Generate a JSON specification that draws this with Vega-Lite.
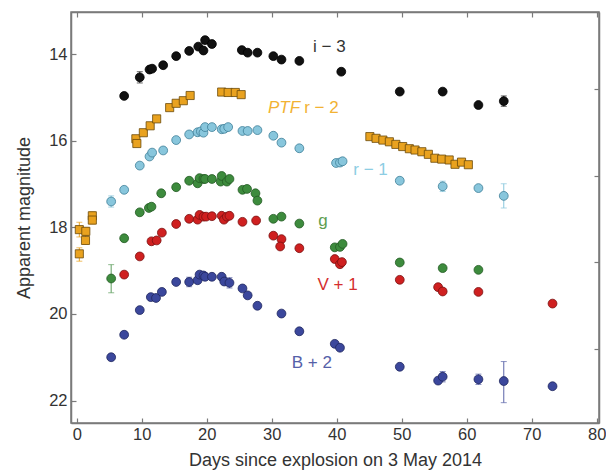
{
  "$schema": "https://vega.github.io/schema/vega-lite/v6.json",
  "width": 528,
  "height": 411,
  "autosize": {"type": "none"},
  "padding": {"left": 71, "top": 12, "right": 7, "bottom": 47},
  "config": {
    "font": "Liberation Sans",
    "view": {"stroke": "#7a7a7a", "strokeWidth": 1.5},
    "axis": {
      "grid": false,
      "domainColor": "#7a7a7a",
      "domainWidth": 1.5,
      "tickColor": "#7a7a7a",
      "tickWidth": 1.2,
      "tickSize": -5,
      "labelFont": "Liberation Sans",
      "labelFontSize": 16.5,
      "labelColor": "#333333",
      "titleFont": "Liberation Sans",
      "titleFontSize": 18,
      "titleFontWeight": "normal",
      "titleColor": "#333333"
    }
  },
  "datasets": {
    "pts": [
      {"s":"i","d":7.3,"m":14.96},{"s":"i","d":9.7,"m":14.53},{"s":"i","d":11.2,"m":14.35},{"s":"i","d":11.6,"m":14.33},{"s":"i","d":13.3,"m":14.25},{"s":"i","d":15.3,"m":14.04},{"s":"i","d":17.3,"m":13.92},{"s":"i","d":18.7,"m":13.82},{"s":"i","d":19.5,"m":13.91},{"s":"i","d":19.75,"m":13.67},{"s":"i","d":20.8,"m":13.76},{"s":"i","d":25.4,"m":13.9},{"s":"i","d":26.3,"m":13.96},{"s":"i","d":27.8,"m":13.96},{"s":"i","d":30.25,"m":14.04},{"s":"i","d":31.5,"m":14.12},{"s":"i","d":34.25,"m":14.15},{"s":"i","d":40.7,"m":14.4},{"s":"i","d":49.7,"m":14.86},{"s":"i","d":56.3,"m":14.86},{"s":"i","d":61.8,"m":15.17},{"s":"i","d":65.7,"m":15.08},
      {"s":"r","d":5.3,"m":17.4},{"s":"r","d":7.3,"m":17.13},{"s":"r","d":9.7,"m":16.57},{"s":"r","d":11.2,"m":16.36},{"s":"r","d":11.6,"m":16.27},{"s":"r","d":13.3,"m":16.22},{"s":"r","d":15.3,"m":15.98},{"s":"r","d":17.3,"m":15.85},{"s":"r","d":18.6,"m":15.8},{"s":"r","d":19.1,"m":15.78},{"s":"r","d":19.5,"m":15.81},{"s":"r","d":19.75,"m":15.68},{"s":"r","d":20.8,"m":15.68},{"s":"r","d":22.3,"m":15.73},{"s":"r","d":22.7,"m":15.72},{"s":"r","d":23.3,"m":15.68},{"s":"r","d":25.5,"m":15.77},{"s":"r","d":26.3,"m":15.77},{"s":"r","d":27.8,"m":15.75},{"s":"r","d":30.25,"m":15.88},{"s":"r","d":31.5,"m":16.04},{"s":"r","d":34.25,"m":16.17},{"s":"r","d":39.9,"m":16.51},{"s":"r","d":40.5,"m":16.5},{"s":"r","d":40.9,"m":16.47},{"s":"r","d":49.7,"m":16.92},{"s":"r","d":56.3,"m":17.05},{"s":"r","d":61.8,"m":17.09},{"s":"r","d":65.7,"m":17.27},
      {"s":"g","d":5.3,"m":19.18},{"s":"g","d":7.3,"m":18.25},{"s":"g","d":9.7,"m":17.65},{"s":"g","d":11.1,"m":17.55},{"s":"g","d":11.5,"m":17.52},{"s":"g","d":13.0,"m":17.21},{"s":"g","d":15.3,"m":17.07},{"s":"g","d":17.3,"m":16.92},{"s":"g","d":18.6,"m":16.98},{"s":"g","d":18.9,"m":16.86},{"s":"g","d":19.5,"m":16.88},{"s":"g","d":19.75,"m":16.88},{"s":"g","d":20.8,"m":16.88},{"s":"g","d":22.15,"m":16.94},{"s":"g","d":22.3,"m":16.81},{"s":"g","d":23.1,"m":16.94},{"s":"g","d":23.5,"m":16.88},{"s":"g","d":25.5,"m":17.13},{"s":"g","d":26.2,"m":17.11},{"s":"g","d":27.5,"m":17.21},{"s":"g","d":27.8,"m":17.38},{"s":"g","d":30.25,"m":17.8},{"s":"g","d":31.5,"m":17.75},{"s":"g","d":34.25,"m":17.91},{"s":"g","d":39.7,"m":18.46},{"s":"g","d":40.5,"m":18.45},{"s":"g","d":40.9,"m":18.38},{"s":"g","d":49.7,"m":18.81},{"s":"g","d":56.3,"m":18.94},{"s":"g","d":61.8,"m":18.98},
      {"s":"V","d":7.3,"m":19.09},{"s":"V","d":9.7,"m":18.67},{"s":"V","d":11.5,"m":18.32},{"s":"V","d":12.3,"m":18.3},{"s":"V","d":13.1,"m":18.12},{"s":"V","d":15.3,"m":17.92},{"s":"V","d":17.3,"m":17.8},{"s":"V","d":18.6,"m":17.82},{"s":"V","d":18.9,"m":17.71},{"s":"V","d":19.5,"m":17.75},{"s":"V","d":19.9,"m":17.75},{"s":"V","d":20.8,"m":17.74},{"s":"V","d":22.3,"m":17.73},{"s":"V","d":22.65,"m":17.82},{"s":"V","d":23.1,"m":17.75},{"s":"V","d":23.5,"m":17.73},{"s":"V","d":25.5,"m":17.87},{"s":"V","d":27.6,"m":17.84},{"s":"V","d":30.25,"m":18.19},{"s":"V","d":31.5,"m":18.27},{"s":"V","d":31.3,"m":18.44},{"s":"V","d":34.25,"m":18.48},{"s":"V","d":39.7,"m":18.73},{"s":"V","d":40.5,"m":18.85},{"s":"V","d":40.8,"m":18.8},{"s":"V","d":49.7,"m":19.21},{"s":"V","d":55.6,"m":19.38},{"s":"V","d":56.3,"m":19.48},{"s":"V","d":61.8,"m":19.49},{"s":"V","d":73.2,"m":19.76},
      {"s":"B","d":5.3,"m":21.0},{"s":"B","d":7.3,"m":20.48},{"s":"B","d":9.7,"m":19.91},{"s":"B","d":11.4,"m":19.61},{"s":"B","d":12.2,"m":19.63},{"s":"B","d":13.1,"m":19.49},{"s":"B","d":15.3,"m":19.26},{"s":"B","d":17.3,"m":19.26},{"s":"B","d":18.6,"m":19.22},{"s":"B","d":18.9,"m":19.09},{"s":"B","d":19.5,"m":19.11},{"s":"B","d":19.75,"m":19.14},{"s":"B","d":20.8,"m":19.14},{"s":"B","d":22.3,"m":19.14},{"s":"B","d":22.7,"m":19.25},{"s":"B","d":23.5,"m":19.28},{"s":"B","d":25.5,"m":19.41},{"s":"B","d":26.3,"m":19.57},{"s":"B","d":27.8,"m":19.81},{"s":"B","d":31.5,"m":19.99},{"s":"B","d":34.25,"m":20.4},{"s":"B","d":39.7,"m":20.69},{"s":"B","d":40.5,"m":20.78},{"s":"B","d":49.7,"m":21.22},{"s":"B","d":55.6,"m":21.54},{"s":"B","d":56.3,"m":21.45},{"s":"B","d":61.8,"m":21.51},{"s":"B","d":65.7,"m":21.55},{"s":"B","d":73.2,"m":21.67}
    ],
    "ptf": [
      {"s":"PTF","d":0.4,"m":18.05},{"s":"PTF","d":1.4,"m":18.09},{"s":"PTF","d":1.35,"m":18.3},{"s":"PTF","d":0.4,"m":18.61},{"s":"PTF","d":2.4,"m":17.73},{"s":"PTF","d":2.4,"m":17.83},
      {"s":"PTF","d":9.1,"m":15.95},{"s":"PTF","d":9.25,"m":16.06},{"s":"PTF","d":10.25,"m":15.81},{"s":"PTF","d":11.3,"m":15.65},{"s":"PTF","d":12.3,"m":15.49},{"s":"PTF","d":14.3,"m":15.23},{"s":"PTF","d":15.3,"m":15.13},{"s":"PTF","d":16.4,"m":15.07},{"s":"PTF","d":17.45,"m":14.95},
      {"s":"PTF","d":22.3,"m":14.87},{"s":"PTF","d":23.3,"m":14.88},{"s":"PTF","d":24.4,"m":14.88},{"s":"PTF","d":25.3,"m":14.93},
      {"s":"PTF","d":45.1,"m":15.9},{"s":"PTF","d":46.05,"m":15.94},{"s":"PTF","d":47.1,"m":15.98},{"s":"PTF","d":48.1,"m":16.02},{"s":"PTF","d":49.1,"m":16.08},{"s":"PTF","d":50.15,"m":16.13},{"s":"PTF","d":51.17,"m":16.18},{"s":"PTF","d":52.05,"m":16.21},{"s":"PTF","d":53.1,"m":16.25},{"s":"PTF","d":54.1,"m":16.31},{"s":"PTF","d":55.1,"m":16.4},{"s":"PTF","d":56.15,"m":16.42},{"s":"PTF","d":57.3,"m":16.44},{"s":"PTF","d":58.2,"m":16.54},{"s":"PTF","d":59.2,"m":16.49},{"s":"PTF","d":60.25,"m":16.55}
    ],
    "err": [
      {"s":"i","d":9.7,"lo":14.4,"hi":14.66},{"s":"i","d":65.7,"lo":14.96,"hi":15.2},
      {"s":"PTF","d":0.4,"lo":17.88,"hi":18.22},{"s":"PTF","d":1.4,"lo":18.0,"hi":18.18},{"s":"PTF","d":1.35,"lo":18.19,"hi":18.39},{"s":"PTF","d":0.4,"lo":18.47,"hi":18.78},{"s":"PTF","d":2.4,"lo":17.64,"hi":17.92},
      {"s":"r","d":5.3,"lo":17.27,"hi":17.53},{"s":"r","d":56.3,"lo":16.93,"hi":17.17},{"s":"r","d":65.7,"lo":16.99,"hi":17.55},
      {"s":"g","d":5.3,"lo":18.86,"hi":19.51},
      {"s":"B","d":17.3,"lo":19.15,"hi":19.37},{"s":"B","d":23.5,"lo":19.16,"hi":19.4},{"s":"B","d":56.3,"lo":21.33,"hi":21.57},{"s":"B","d":61.8,"lo":21.39,"hi":21.63},{"s":"B","d":65.7,"lo":21.1,"hi":22.05}
    ],
    "lab": [
      {"k":"Li","t":"i − 3","d":36.35,"m":13.82},
      {"k":"LP","t":"r − 2","d":35.0,"m":15.25},
      {"k":"Lr","t":"r − 1","d":42.55,"m":16.67},
      {"k":"Lg","t":"g","d":37.17,"m":17.85},
      {"k":"LV","t":"V + 1","d":37.05,"m":19.34},
      {"k":"LB","t":"B + 2","d":33.08,"m":21.14}
    ],
    "labit": [
      {"k":"LP","t":"PTF","d":29.43,"m":15.25}
    ]
  },
  "layer": [
    {
      "layer": [
        {
          "data": {"name": "err"},
          "mark": {"type": "errorbar", "ticks": {"size": 6}, "thickness": 1},
          "encoding": {
            "x": {"field": "d", "type": "quantitative", "scale": {"domain": [-0.88, 80.35], "nice": false, "zero": false},
                  "axis": {"title": "Days since explosion on 3 May 2014", "values": [0,10,20,30,40,50,60,70,80], "labelPadding": 8, "titlePadding": 9}},
            "y": {"field": "lo", "type": "quantitative", "scale": {"domain": [13.02, 22.52], "reverse": true, "nice": false, "zero": false},
                  "axis": {"title": "Apparent magnitude", "values": [14,16,18,20,22], "labelPadding": 9, "titlePadding": 15}},
            "y2": {"field": "hi"},
            "color": {"field": "s", "type": "nominal", "legend": null,
                      "scale": {"domain": ["i","PTF","r","g","V","B","Li","LP","Lr","Lg","LV","LB"],
                                "range": ["#222222","#E9A21F","#88C6DC","#5E9E5E","#CF2020","#5A64A8","#333333","#F2B233","#8DCDE3","#5E9E50","#D42E2E","#5560A8"]}}
          }
        },
        {
          "data": {"name": "pts"},
          "mark": {"type": "point", "shape": "circle", "filled": true, "size": 78, "opacity": 1, "strokeWidth": 0.8},
          "encoding": {
            "x": {"field": "d", "type": "quantitative"},
            "y": {"field": "m", "type": "quantitative"},
            "fill": {"field": "s", "type": "nominal", "legend": null,
                     "scale": {"domain": ["i","PTF","r","g","V","B"], "range": ["#111111","#E9A21F","#88C6DC","#3D8B3D","#CF2020","#3B479C"]}},
            "stroke": {"field": "s", "type": "nominal", "legend": null,
                       "scale": {"domain": ["i","PTF","r","g","V","B"], "range": ["#000000","#6b4a0a","#3f7f98","#235a23","#7a1010","#1f275e"]}}
          }
        },
        {
          "data": {"name": "ptf"},
          "mark": {"type": "point", "shape": "square", "filled": true, "size": 66, "opacity": 1, "strokeWidth": 0.8},
          "encoding": {
            "x": {"field": "d", "type": "quantitative"},
            "y": {"field": "m", "type": "quantitative"},
            "fill": {"field": "s", "type": "nominal", "legend": null},
            "stroke": {"field": "s", "type": "nominal", "legend": null}
          }
        },
        {
          "data": {"name": "lab"},
          "mark": {"type": "text", "align": "left", "baseline": "middle", "fontSize": 17, "font": "Liberation Sans"},
          "encoding": {
            "x": {"field": "d", "type": "quantitative"},
            "y": {"field": "m", "type": "quantitative"},
            "text": {"field": "t"},
            "color": {"field": "k", "type": "nominal", "legend": null}
          }
        },
        {
          "data": {"name": "labit"},
          "mark": {"type": "text", "align": "left", "baseline": "middle", "fontSize": 17, "fontStyle": "italic", "font": "Liberation Sans"},
          "encoding": {
            "x": {"field": "d", "type": "quantitative"},
            "y": {"field": "m", "type": "quantitative"},
            "text": {"field": "t"},
            "color": {"field": "k", "type": "nominal", "legend": null}
          }
        }
      ]
    },
    {
      "data": {"name": "pts"},
      "mark": {"type": "point", "opacity": 0},
      "encoding": {
        "x": {"field": "d", "type": "quantitative",
              "axis": {"orient": "top", "labels": false, "title": null, "values": [0,10,20,30,40,50,60,70,80]}},
        "y": {"field": "m", "type": "quantitative", "scale": {"domain": [12.21, 21.71], "reverse": true, "nice": false, "zero": false},
              "axis": {"orient": "right", "labels": false, "title": null, "values": [14,16,18,20]}}
      }
    }
  ],
  "resolve": {"scale": {"y": "independent"}, "axis": {"x": "independent", "y": "independent"}}
}
